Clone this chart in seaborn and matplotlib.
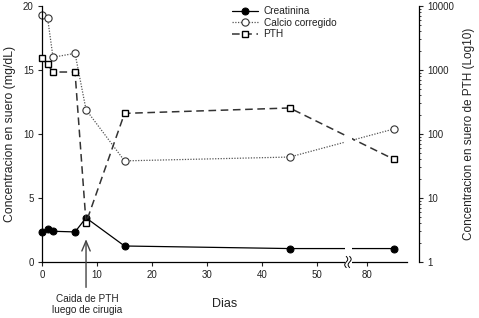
import numpy as np
import matplotlib
matplotlib.use("Agg")
import matplotlib.pyplot as plt
import seaborn as sns

# ---- data ----
days = [0, 1, 2, 6, 8, 15, 45, 85]
creatinina = [2.35, 2.55, 2.4, 2.35, 3.45, 1.25, 1.05, 1.05]
calcio = [19.3, 19.1, 16.0, 16.3, 11.9, 7.9, 8.2, 10.4]
pth = [1550, 1230, 930, 930, 4.1, 210, 255, 40]
xticks = [0, 10, 20, 30, 40, 50, 80]
yticks_left = [0, 5, 10, 15, 20]
yticks_right = [1, 10, 100, 1000, 10000]

sns.set_theme(style="white")
plt.rcParams['font.family'] = ['Liberation Sans', 'DejaVu Sans']
TXT = '#222222'

fig = plt.figure(figsize=(4.79, 3.18), dpi=100)
ax = fig.add_axes([42/479, 1-262/318, 377/479, 256/318])

# broken x axis: 55..77 compressed
def fwd(d):
    d = np.asarray(d, dtype=float)
    return np.where(d <= 55, d, np.where(d >= 77, d - 21, 55 + (d - 55) / 22))

def inv(v):
    v = np.asarray(v, dtype=float)
    return np.where(v <= 55, v, np.where(v >= 56, v + 21, 55 + (v - 55) * 22))

ax.set_xscale('function', functions=(fwd, inv))

sns.lineplot(x=days, y=creatinina, ax=ax, color='black', lw=0.9, ls='-',
             marker='o', markersize=5, markerfacecolor='black',
             markeredgecolor='black', label='Creatinina', clip_on=False)
sns.lineplot(x=days, y=calcio, ax=ax, color='#555555', lw=0.9, ls=(0, (1, 1.2)),
             marker='o', markersize=5.2, markerfacecolor='white',
             markeredgecolor='#333333', markeredgewidth=0.8, label='Calcio corregido',
             clip_on=False)

ax2 = ax.twinx()
ax2.set_xscale('function', functions=(fwd, inv))
sns.lineplot(x=days, y=pth, ax=ax2, color='#333333', lw=1.1, ls=(0, (5, 3)),
             marker='s', markersize=4.5, markerfacecolor='white',
             markeredgecolor='black', markeredgewidth=1.0, label='PTH',
             clip_on=False)
ax2.set_yscale('log')
ax2.set_ylim(1, 10000)

for a in (ax, ax2):
    a.set_xlim(0, 89.5)
    lg = a.get_legend()
    if lg:
        lg.remove()

ax.set_ylim(0, 20)
ax.set_yticks(yticks_left)
ax.set_xticks(xticks)
ax.set_xticklabels([str(t) for t in xticks])

for s in ('top', 'right'):
    ax.spines[s].set_visible(False)
for s in ('top', 'left', 'bottom'):
    ax2.spines[s].set_visible(False)
ax.spines['bottom'].set_bounds(0, 87.4)
for sp in (ax.spines['left'], ax.spines['bottom'], ax2.spines['right']):
    sp.set_color('black')
    sp.set_linewidth(0.9)

ax.tick_params(axis='both', direction='out', length=3, width=0.8, labelsize=7,
               colors=TXT, pad=3, left=True, bottom=True)
ax2.set_yticks(yticks_right)
ax2.set_yticklabels([str(t) for t in yticks_right])
ax2.tick_params(axis='y', which='major', direction='out', length=3, width=0.8,
                labelsize=7, colors=TXT, right=True, pad=3)
ax2.tick_params(axis='y', which='minor', direction='out', length=1.5, width=0.6,
                right=True, colors=TXT)

ax.set_ylabel('Concentracion en suero (mg/dL)', fontsize=8.8, color=TXT)
ax.yaxis.set_label_coords(-0.068, 0.5)
ax2.set_ylabel('Concentracion en suero de PTH (Log10)', fontsize=8.5, color=TXT)
ax2.yaxis.set_label_coords(1.117, 0.5)
ax.set_xlabel('Dias', fontsize=9, color=TXT)
ax.xaxis.set_label_coords(0.485, -0.14)

# break mask and squiggles
ax2.axvspan(55.1, 77.4, ymin=-0.03, ymax=1.0, color='white', zorder=3,
            clip_on=False, lw=0)
tt = np.linspace(-1, 1, 30)
for xc in (0.807, 0.816):
    ax2.plot(xc + 0.004 * np.sin(tt * np.pi), tt * 0.022, color='black',
             lw=0.7, transform=ax2.transAxes, clip_on=False, zorder=4)

# annotation
ax2.annotate('', xy=(8, 0.10), xycoords=('data', 'axes fraction'),
             xytext=(8, -0.11), textcoords=('data', 'axes fraction'),
             arrowprops=dict(arrowstyle='->,head_length=0.6,head_width=0.25',
                             color='#444444', lw=1.0),
             annotation_clip=False, zorder=5)
ax.text(0.121, -0.165, 'Caida de PTH\nluego de cirugia', transform=ax.transAxes,
        ha='center', va='center', fontsize=7.2, color=TXT, linespacing=1.15)

# legend
handles = ax.get_lines()[:2] + ax2.get_lines()[:1]
labels = ['Creatinina', 'Calcio corregido', 'PTH']
fig.legend(handles, labels, loc='upper left', bbox_to_anchor=(226/479, 1 - 0/318),
           frameon=False, fontsize=7.3, handlelength=2.6, handletextpad=0.5,
           labelspacing=0.15, borderpad=0.1, labelcolor=TXT)

fig.savefig('out.png', dpi=100)
